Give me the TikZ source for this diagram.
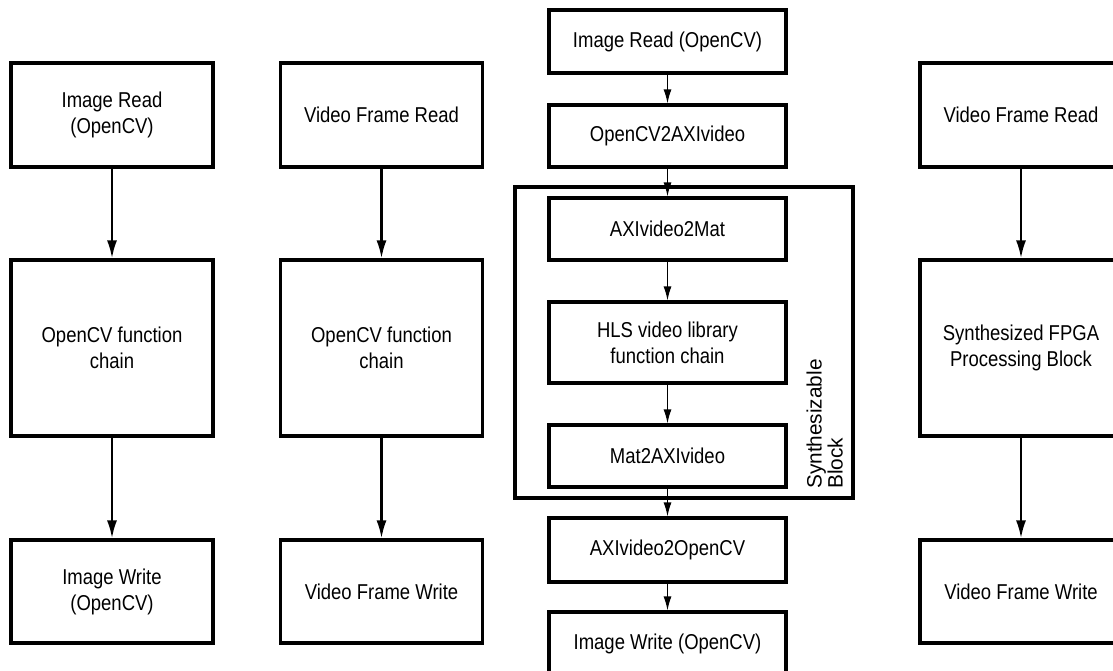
\documentclass[tikz,border=0pt]{standalone}
\usepackage{fontspec}
\setmainfont{Liberation Sans}[FakeStretch=0.86]
\newfontfamily\vertfont{Liberation Sans}
\usetikzlibrary{arrows.meta}
\tikzset{
  block/.style={
    draw,
    line width=3.2pt,
    inner sep=0pt,
    align=center,
    minimum width=202pt
  },
  hlsblock/.style={
    draw,
    line width=3.2pt,
    inner sep=0pt,
    align=center,
    minimum width=237pt
  },
  flow/.style={
    line width=2.4pt,
    -{Latex[length=18pt,width=10pt]}
  },
  thinflow/.style={
    line width=1.3pt,
    -{Latex[length=14pt,width=8pt]}
  },
  every picture/.style={
    font=\fontsize{21.5}{26}\selectfont
  }
}

\begin{document}
\begin{tikzpicture}[x=1pt,y=-1pt]
    \useasboundingbox (0,0) rectangle (1113,670);
    \clip (0,0) rectangle (1113,670);
    % image, OpenCV only
    \node[block, minimum height=104pt] (imread) at (112,115) {Image Read\\(OpenCV)};
    \node[block, minimum height=176pt] (cvchain) at (112,348) {OpenCV function\\chain};
    \node[block, minimum height=103pt] (imwrite) at (112,591.5) {Image Write\\(OpenCV)};
    \draw[flow] (imread) -- (cvchain);
    \draw[flow] (cvchain) -- (imwrite);
    % video, OpenCV only
    \node[block, minimum height=104pt] (vidread) at (381.5,115) {Video Frame Read};
    \node[block, minimum height=176pt] (vidchain) at (381.5,348) {OpenCV function\\chain};
    \node[block, minimum height=103pt] (vidwrite) at (381.5,591.5) {Video Frame Write};
    \draw[flow] (vidread) -- (vidchain);
    \draw[flow] (vidchain) -- (vidwrite);
    % test bench round the synthesizable block
    \node[draw, line width=3.2pt, minimum width=338pt, minimum height=311pt] (synthblk) at (684,342.5) {};
    \node[hlsblock, minimum height=63pt] (tbread) at (667.5,41.5) {Image Read (OpenCV)};
    \node[hlsblock, minimum height=62pt] (cv2axi) at (667.5,136) {OpenCV2AXIvideo};
    \node[hlsblock, minimum height=62pt] (axi2mat) at (667.5,229) {AXIvideo2Mat};
    \node[hlsblock, minimum height=81pt] (hlschain) at (667.5,342.5) {HLS video library\\function chain};
    \node[hlsblock, minimum height=62pt] (mat2axi) at (667.5,456) {Mat2AXIvideo};
    \node[hlsblock, minimum height=64pt] (axi2cv) at (667.5,550) {AXIvideo2OpenCV};
    \node[hlsblock, minimum height=63pt] (tbwrite) at (667.5,643.5) {Image Write (OpenCV)};
    \node[rotate=90, anchor=south west, align=left, inner sep=0pt,
          font=\vertfont\fontsize{20.8}{21}\selectfont] (synthlbl) at (843,489) {Synthesizable\\Block};
    \draw[thinflow] (tbread) -- (cv2axi);
    \draw[thinflow] (cv2axi) -- (axi2mat);
    \draw[thinflow] (axi2mat) -- (hlschain);
    \draw[thinflow] (hlschain) -- (mat2axi);
    \draw[thinflow] (mat2axi) -- (axi2cv);
    \draw[thinflow] (axi2cv) -- (tbwrite);
    % video through the FPGA
    \node[block, minimum height=104pt] (fpgaread) at (1021,115) {Video Frame Read};
    \node[block, minimum height=176pt] (fpgachain) at (1021,348) {Synthesized FPGA\\Processing Block};
    \node[block, minimum height=103pt] (fpgawrite) at (1021,591.5) {Video Frame Write};
    \draw[flow] (fpgaread) -- (fpgachain);
    \draw[flow] (fpgachain) -- (fpgawrite);
\end{tikzpicture}
\end{document}
